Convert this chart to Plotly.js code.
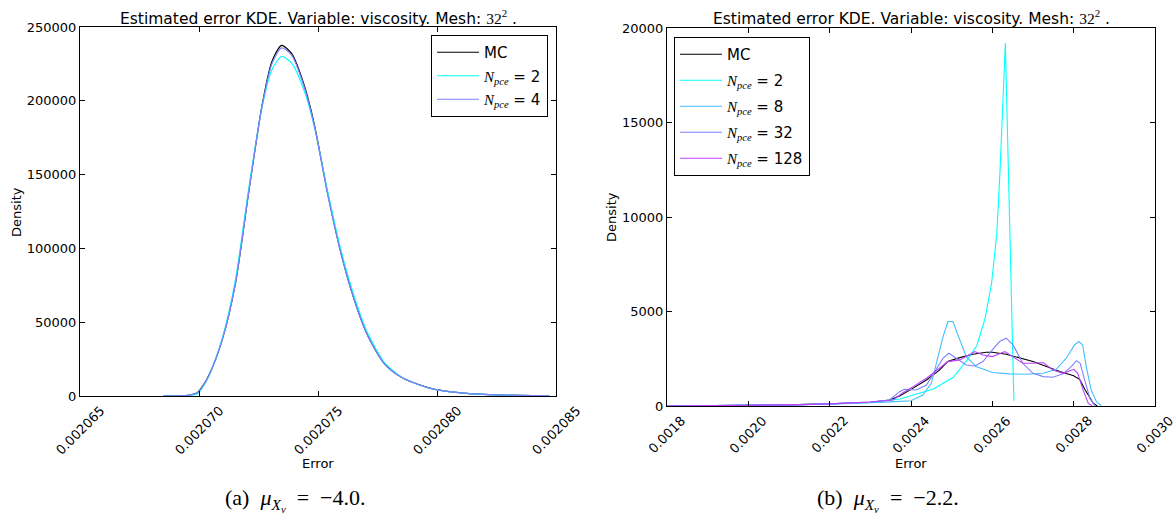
<!DOCTYPE html>
<html>
<head>
<meta charset="utf-8">
<script src="https://cdn.plot.ly/plotly-3.0.1.min.js"></script>
<style>html,body{margin:0;padding:0;background:#fff;}</style>
</head>
<body>
<div id="chart" style="width:1175px;height:516px;"></div>
<script>
// ---------- Panel (a): mu = -4.0 ----------
const aErr = [0.00206850, 0.00206917, 0.00206960, 0.00206993, 0.00207014, 0.00207042, 0.00207097,
  0.00207153, 0.00207208, 0.00207264, 0.00207306, 0.00207347, 0.00207389, 0.00207444, 0.00207486,
  0.00207542, 0.00207597, 0.00207653, 0.00207708, 0.00207778, 0.00207847, 0.00207917, 0.00207986,
  0.00208125, 0.00208264, 0.00208403, 0.00208472];
const aMC   = [0, 80, 700, 2250, 6300, 14200, 37900, 76300, 137300, 196000, 226500, 237500, 232100,
  209500, 182900, 136200, 96600, 65000, 41300, 22100, 13100, 8100, 4700, 1800, 700, 230, 100];
const aN2   = [0, 0, 300, 1500, 5600, 13500, 38500, 78500, 139500, 195000, 221000, 230000, 225500,
  206000, 181500, 137500, 98500, 67000, 42800, 23000, 13200, 8000, 4700, 1800, 700, 230, 100];
const aN4   = [0, 80, 650, 2150, 6100, 14000, 37700, 76000, 137000, 195500, 225000, 235800, 231000,
  208500, 182000, 135500, 96200, 64700, 41200, 22000, 13000, 8000, 4700, 1800, 700, 230, 100];
const aTickVals = [0.002065, 0.002070, 0.002075, 0.002080, 0.002085];
const aTickText = ['0.002065', '0.002070', '0.002075', '0.002080', '0.002085'];

// ---------- Panel (b): mu = -2.2 ----------
const bMCx  = [0.0018, 0.0019, 0.0020, 0.0021, 0.0022, 0.0023, 0.002347, 0.002372, 0.0024, 0.002438,
  0.00247, 0.00249, 0.00252, 0.002552, 0.002585, 0.0026, 0.002634, 0.002667, 0.0027, 0.002733,
  0.002766, 0.0028, 0.002815, 0.002827, 0.00284, 0.002848, 0.002858];
const bMCy  = [0, 10, 30, 60, 110, 200, 320, 530, 880, 1380, 1900, 2350, 2560, 2740, 2845, 2845, 2740,
  2560, 2350, 2085, 1820, 1600, 1400, 900, 420, 150, 0];

const bN2x  = [0.0018, 0.0019, 0.0020, 0.0021, 0.0022, 0.0023, 0.002373, 0.002455, 0.002504, 0.002537,
  0.002562, 0.002582, 0.002598, 0.002611, 0.002619, 0.002632, 0.002653];
const bN2y  = [0, 10, 30, 60, 110, 190, 370, 900, 1520, 2400, 3200, 4615, 6470, 9120, 12480, 19200, 280];

const bN8x  = [0.0018, 0.0019, 0.0020, 0.0021, 0.0022, 0.0023, 0.00235, 0.0024, 0.002429, 0.00245,
  0.002462, 0.002479, 0.002491, 0.002503, 0.00252, 0.002536, 0.00256, 0.0026, 0.002643, 0.002684,
  0.002725, 0.002757, 0.002782, 0.002802, 0.002813, 0.002822, 0.002831, 0.002843, 0.002856, 0.002868];
const bN8y  = [0, 10, 30, 60, 100, 170, 220, 280, 580, 1200, 2260, 3680, 4470, 4470, 3500, 2615, 2085,
  1770, 1700, 1680, 1730, 1940, 2530, 3230, 3410, 3230, 2085, 850, 230, 20];

const bN32x = [0.0018, 0.0019, 0.0020, 0.0021, 0.0022, 0.0023, 0.002347, 0.002372, 0.002384, 0.002413,
  0.002438, 0.002462, 0.002479, 0.002493, 0.002511, 0.002536, 0.002557, 0.002577, 0.0026, 0.002618,
  0.002634, 0.002651, 0.002675, 0.0027, 0.002725, 0.002749, 0.002774, 0.002794, 0.002807, 0.002816,
  0.002827, 0.00284, 0.002852];
const bN32y = [0, 10, 30, 60, 110, 210, 320, 760, 880, 850, 1110, 1900, 2530, 2790, 2530, 2170, 2120,
  2350, 2970, 3410, 3590, 3230, 2260, 1730, 1555, 1520, 1700, 2085, 2400, 2260, 1380, 400, 20];

const bN128x = [0.0018, 0.0019, 0.0020, 0.0021, 0.0022, 0.0023, 0.002356, 0.00238, 0.002405, 0.002438,
  0.00247, 0.00249, 0.00252, 0.002536, 0.002557, 0.002577, 0.0026, 0.002631, 0.002651, 0.002675,
  0.0027, 0.002725, 0.002749, 0.002774, 0.0028, 0.00281, 0.002823, 0.002836, 0.002846];
const bN128y = [0, 10, 30, 60, 110, 210, 320, 700, 1025, 1470, 2000, 2350, 2440, 2650, 2880, 2700, 2615,
  2880, 2615, 2260, 2260, 2300, 1910, 1730, 1940, 1730, 850, 140, 0];
const bTickVals = [0.0018, 0.0020, 0.0022, 0.0024, 0.0026, 0.0028, 0.0030];
const bTickText = ['0.0018', '0.0020', '0.0022', '0.0024', '0.0026', '0.0028', '0.0030'];

const titleText = 'Estimated error KDE. Variable: viscosity. Mesh: <span style="font-family:Liberation Serif">32<sup>2</sup></span> .';
const npce = n => '<i style="font-family:Liberation Serif">N<sub>pce</sub></i> = ' + n;

const colMC = '#000000', colN2 = '#00ffff', colN4 = '#8080ff', colN8 = '#40bfff', colN32 = '#8080ff', colN128 = '#bf40ff';

const traces = [
  {x: aErr, y: aMC, name: 'MC', line: {color: colMC}},
  {x: aErr, y: aN2, name: npce(2), line: {color: colN2}},
  {x: aErr, y: aN4, name: npce(4), line: {color: colN4}},
].map((t, i) => Object.assign(t, {type: 'scatter', mode: 'lines', xaxis: 'x', yaxis: 'y', legend: 'legend',
  legendgroup: 'a' + i, line: Object.assign(t.line, {width: 1.2, shape: 'spline', smoothing: 0.7})}));

const traces2 = [
  {x: bMCx, y: bMCy, name: 'MC', line: {color: colMC}},
  {x: bN2x, y: bN2y, name: npce(2), line: {color: colN2}},
  {x: bN8x, y: bN8y, name: npce(8), line: {color: colN8}},
  {x: bN32x, y: bN32y, name: npce(32), line: {color: colN32}},
  {x: bN128x, y: bN128y, name: npce(128), line: {color: colN128}},
].map((t, i) => Object.assign(t, {type: 'scatter', mode: 'lines', xaxis: 'x2', yaxis: 'y2', legend: 'legend2',
  legendgroup: 'b' + i, line: Object.assign(t.line, {width: 1.1})}));

const W = 1175, H = 516;
const px = v => v / W, py = v => 1 - v / H;

const axBase = {
  ticks: 'inside', ticklen: 5, tickcolor: '#000', showline: true, mirror: 'ticks', linecolor: '#000',
  linewidth: 1, showgrid: false, zeroline: false, automargin: false,
  tickfont: {family: 'DejaVu Sans', size: 13, color: '#000'}
};

const legBase = {
  bgcolor: '#fff', bordercolor: '#000', borderwidth: 1, itemwidth: 42,
  font: {family: 'DejaVu Sans', size: 15, color: '#000'}, yanchor: 'top'
};

const annotations = [
  {text: titleText, x: px(318), y: py(17), xref: 'paper', yref: 'paper', showarrow: false,
    xanchor: 'center', yanchor: 'middle', font: {size: 15.5}},
  {text: titleText, x: px(911), y: py(17), xref: 'paper', yref: 'paper', showarrow: false,
    xanchor: 'center', yanchor: 'middle', font: {size: 15.5}},
  {text: 'Error', x: px(318), y: py(463), xref: 'paper', yref: 'paper', showarrow: false,
    xanchor: 'center', yanchor: 'middle', font: {size: 13}},
  {text: 'Error', x: px(911), y: py(463), xref: 'paper', yref: 'paper', showarrow: false,
    xanchor: 'center', yanchor: 'middle', font: {size: 13}},
  {text: 'Density', x: px(16), y: py(212), xref: 'paper', yref: 'paper', showarrow: false,
    textangle: -90, xanchor: 'center', yanchor: 'middle', font: {size: 13}},
  {text: 'Density', x: px(611), y: py(217), xref: 'paper', yref: 'paper', showarrow: false,
    textangle: -90, xanchor: 'center', yanchor: 'middle', font: {size: 13}},
  {text: '(a)&nbsp;&nbsp;<i>μ<sub>X<sub>ν</sub></sub></i>&nbsp;&nbsp;=&nbsp;&nbsp;−4.0.', x: px(295), y: py(500),
    xref: 'paper', yref: 'paper', showarrow: false, xanchor: 'center', yanchor: 'middle',
    font: {family: 'Liberation Serif', size: 22}},
  {text: '(b)&nbsp;&nbsp;<i>μ<sub>X<sub>ν</sub></sub></i>&nbsp;&nbsp;=&nbsp;&nbsp;−2.2.', x: px(888), y: py(500),
    xref: 'paper', yref: 'paper', showarrow: false, xanchor: 'center', yanchor: 'middle',
    font: {family: 'Liberation Serif', size: 22}}
];
// rotated x tick labels, centred on their ticks (matplotlib style)
aTickVals.forEach((v, i) => annotations.push({text: aTickText[i], x: v, xref: 'x', y: py(400), yref: 'paper',
  showarrow: false, textangle: -45, xanchor: 'center', yanchor: 'top', font: {size: 13}}));
bTickVals.forEach((v, i) => annotations.push({text: bTickText[i], x: v, xref: 'x2', y: py(410), yref: 'paper',
  showarrow: false, textangle: -45, xanchor: 'center', yanchor: 'top', font: {size: 13}}));

const layout = {
  width: W, height: H,
  margin: {l: 0, r: 0, t: 0, b: 0},
  paper_bgcolor: '#fff', plot_bgcolor: '#fff',
  font: {family: 'DejaVu Sans', size: 13, color: '#000'},
  showlegend: true,
  xaxis: Object.assign({}, axBase, {domain: [px(80), px(556)], anchor: 'y', range: [0.002065, 0.002085],
    tickvals: aTickVals, showticklabels: false}),
  yaxis: Object.assign({}, axBase, {domain: [py(396), py(27)], anchor: 'x', range: [0, 250000],
    tick0: 0, dtick: 50000, tickformat: 'd'}),
  xaxis2: Object.assign({}, axBase, {domain: [px(667), px(1155)], anchor: 'y2', range: [0.0018, 0.003],
    tickvals: bTickVals, showticklabels: false}),
  yaxis2: Object.assign({}, axBase, {domain: [py(406), py(28)], anchor: 'x2', range: [0, 20000],
    tick0: 0, dtick: 5000, tickformat: 'd'}),
  legend: Object.assign({}, legBase, {x: px(548), xanchor: 'right', y: py(35), tracegroupgap: 1}),
  legend2: Object.assign({}, legBase, {x: px(674), xanchor: 'left', y: py(37), tracegroupgap: 3.5}),
  annotations: annotations
};

Plotly.newPlot('chart', traces.concat(traces2), layout, {staticPlot: true, displayModeBar: false});
</script>
</body>
</html>
